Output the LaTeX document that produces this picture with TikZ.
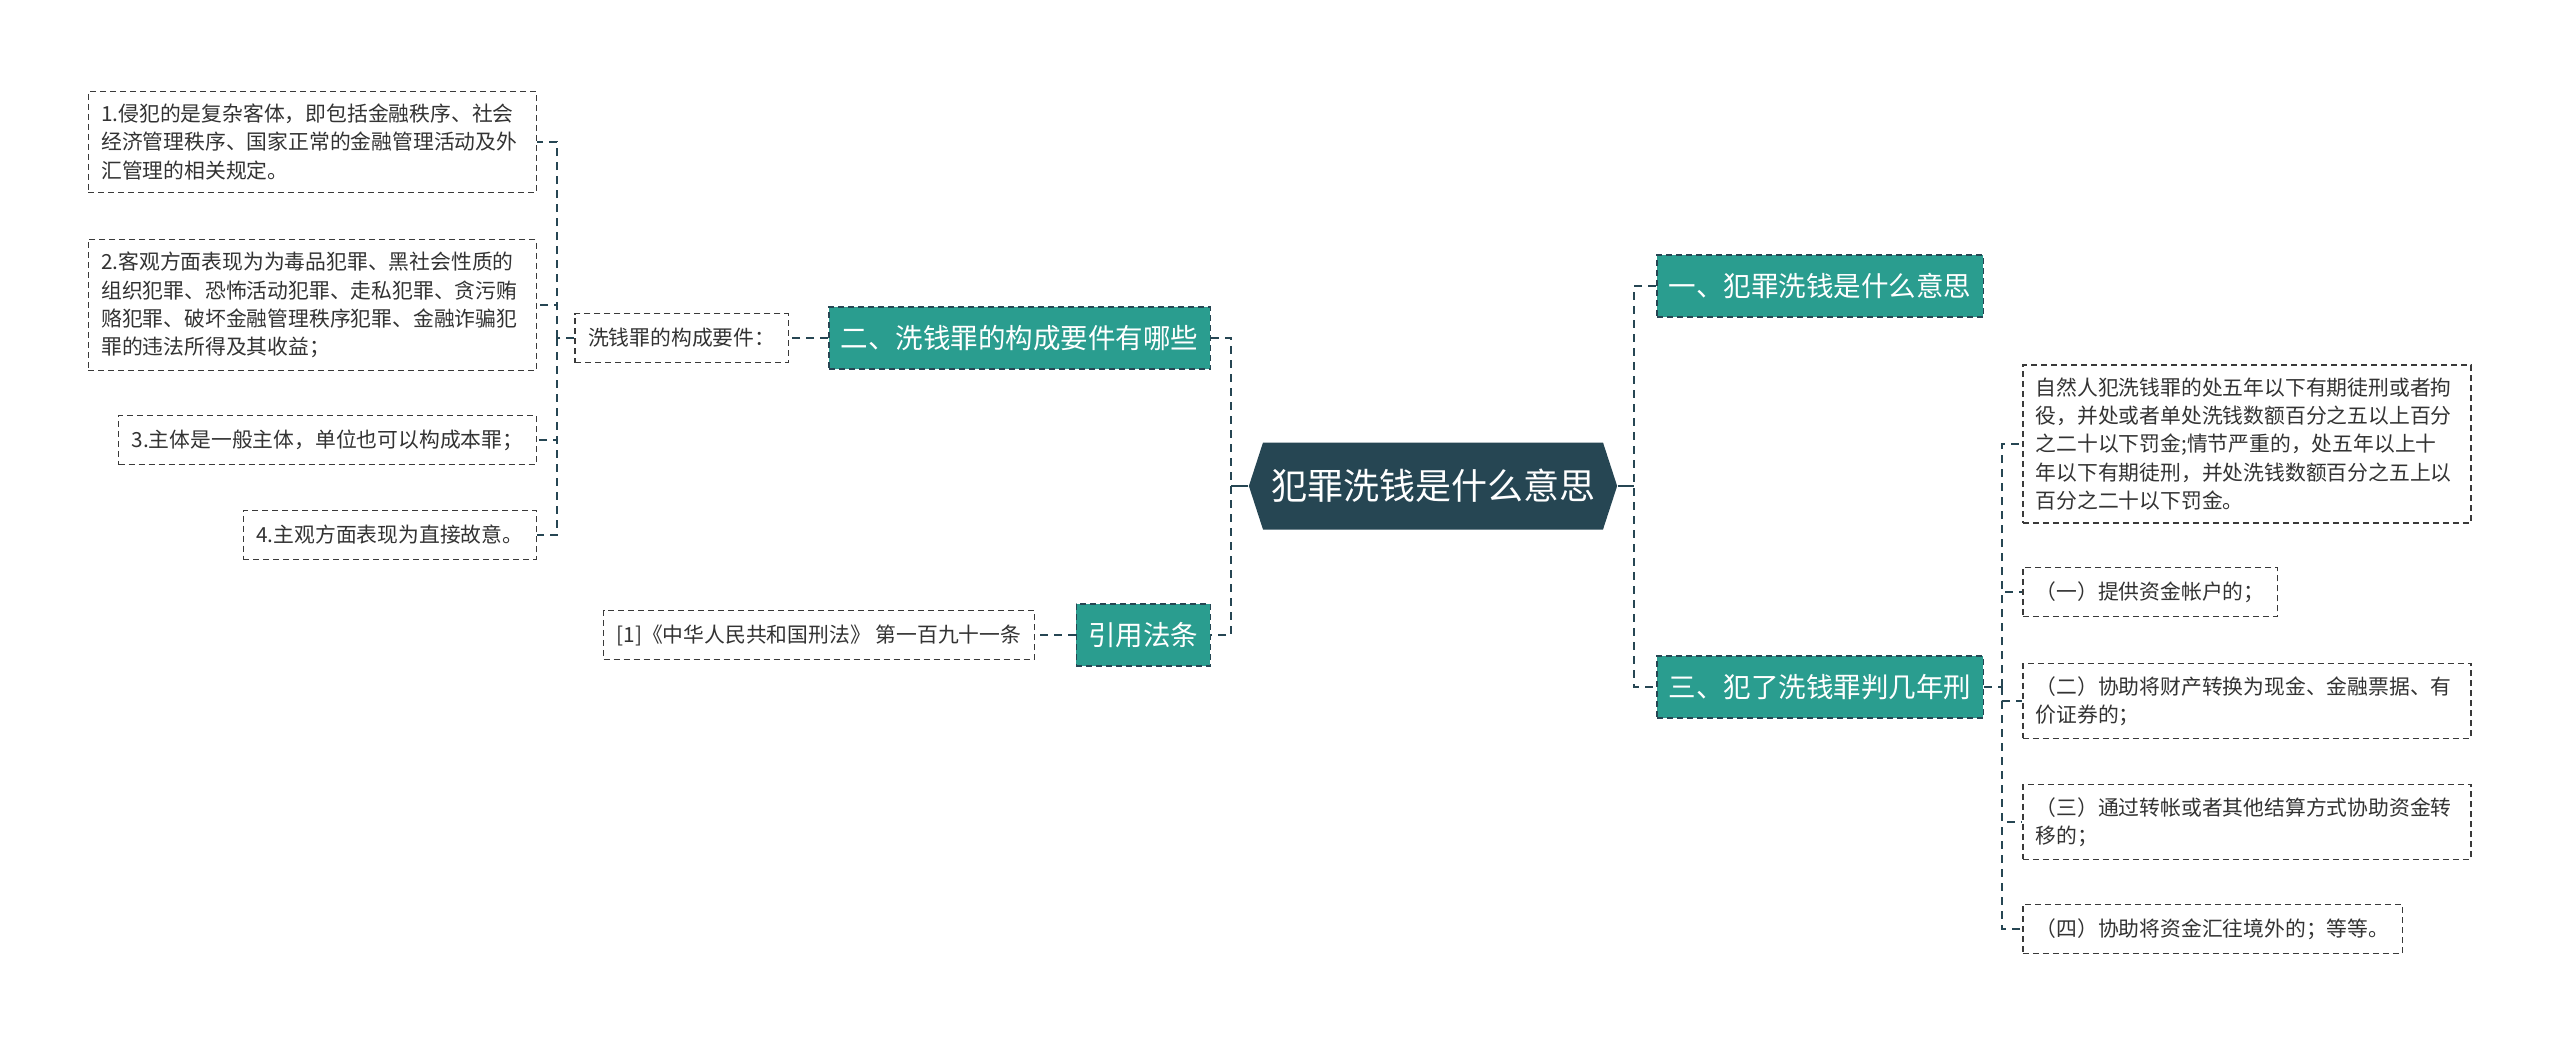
\documentclass[tikz,border=0pt]{standalone}
\usepackage{fontspec}
\setmainfont{Noto Sans CJK SC}
\usepackage{tikz}
\usetikzlibrary{shapes.symbols}

\definecolor{mapteal}{HTML}{2A9D8F}
\definecolor{mapdark}{HTML}{264653}
\definecolor{boxline}{HTML}{3A3A3A}
\definecolor{leaftext}{HTML}{333333}

\begin{document}
\begin{tikzpicture}[x=0.5pt,y=-0.5pt,
    root/.style={signal, signal to=west and east, signal pointer angle=144, fill=mapdark, text=white,
        font=\fontsize{18}{22}\selectfont, minimum width=183.5pt, minimum height=43.5pt, inner xsep=4pt},
    topic/.style={fill=mapteal, draw=mapdark, dash pattern=on 3pt off 2pt, line width=0.75pt, text=white,
        font=\fontsize{13.75}{16}\selectfont, minimum height=31pt, inner xsep=6pt},
    leaf/.style={draw=boxline, dash pattern=on 3pt off 2pt, line width=0.75pt, text=leaftext,
        font=\fontsize{10.4}{14.1}\selectfont, minimum height=24.5pt, inner xsep=6.5pt, inner ysep=5pt},
    wide/.style={leaf, text width=211pt, align=left, inner ysep=6.4pt},
    link/.style={draw=mapdark, line width=1pt, dash pattern=on 4pt off 3pt}]

    \fill[white] (0,0) rectangle (2560,1045);
    \useasboundingbox (0,0) rectangle (2560,1045);

    \node[root] (root) at (1433,486) {犯罪洗钱是什么意思};

    % left side
    \node[topic, anchor=east] (b2) at (1211,338) {二、洗钱罪的构成要件有哪些};
    \node[topic, anchor=east] (b4) at (1211,635) {引用法条};
    \node[leaf, anchor=east] (req) at (789,338) {洗钱罪的构成要件：};
    \node[leaf, anchor=east] (law) at (1035,635) {[1]《中华人民共和国刑法》 第一百九十一条};

    \node[wide, anchor=east] (i1) at (537,142) {1.侵犯的是复杂客体，即包括金融秩序、社会\\经济管理秩序、国家正常的金融管理活动及外\\汇管理的相关规定。};
    \node[wide, anchor=east] (i2) at (537,305) {2.客观方面表现为为毒品犯罪、黑社会性质的\\组织犯罪、恐怖活动犯罪、走私犯罪、贪污贿\\赂犯罪、破坏金融管理秩序犯罪、金融诈骗犯\\罪的违法所得及其收益；};
    \node[leaf, anchor=east] (i3) at (537,440) {3.主体是一般主体，单位也可以构成本罪；};
    \node[leaf, anchor=east] (i4) at (537,535) {4.主观方面表现为直接故意。};

    % right side
    \node[topic, anchor=west] (r1) at (1656,286) {一、犯罪洗钱是什么意思};
    \node[topic, anchor=west] (r3) at (1656,687) {三、犯了洗钱罪判几年刑};

    \node[wide, anchor=west] (c0) at (2022,444) {自然人犯洗钱罪的处五年以下有期徒刑或者拘\\役，并处或者单处洗钱数额百分之五以上百分\\之二十以下罚金;情节严重的，处五年以上十\\年以下有期徒刑，并处洗钱数额百分之五上以\\百分之二十以下罚金。};
    \node[leaf, anchor=west] (c1) at (2022,592) {（一）提供资金帐户的；};
    \node[wide, anchor=west] (c2) at (2022,701) {（二）协助将财产转换为现金、金融票据、有\\价证券的；};
    \node[wide, anchor=west] (c3) at (2022,822) {（三）通过转帐或者其他结算方式协助资金转\\移的；};
    \node[leaf, anchor=west] (c4) at (2022,929) {（四）协助将资金汇往境外的；等等。};

    % spines
    \coordinate (ls) at (1231,486);
    \coordinate (rs) at (1634,486);
    \coordinate (ks) at (557,338);
    \coordinate (ts) at (2002,687);

    \draw[mapdark, line width=1pt] (root.west) -- (ls); % solid stub to the left
    \draw[mapdark, line width=1pt] (root.east) -- (rs); % solid stub to the right
    \draw[link] (b2.east) -| (ls) |- (b4.east);
    \draw[link] (r1.west) -| (rs) |- (r3.west);
    \draw[link] (b2.west) -- (req.east);
    \draw[link] (b4.west) -- (law.east);
    \draw[link] (req.west) -- (ks);
    \foreach \n in {i1,i2,i3,i4}
        \draw[link] (ks) |- (\n.east);
    \draw[link] (r3.east) -- (ts);
    \foreach \n in {c0,c1,c2,c3,c4}
        \draw[link] (ts) |- (\n.west);
\end{tikzpicture}
\end{document}
